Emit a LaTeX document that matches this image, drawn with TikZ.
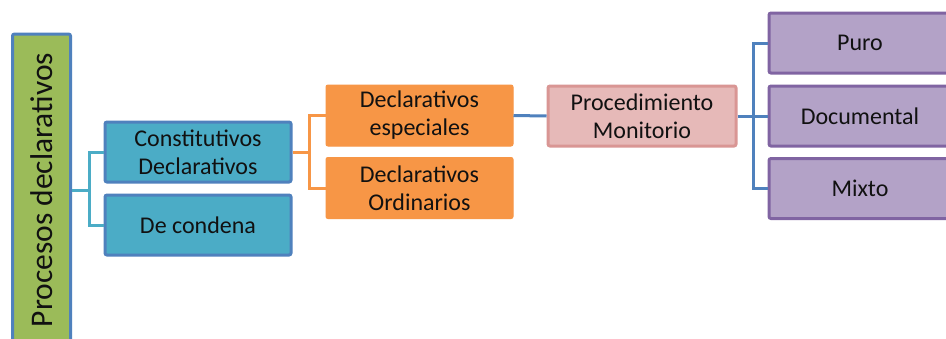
\documentclass[tikz,border=0pt]{standalone}
\usepackage{fontspec}
\setmainfont{Carlito}
\definecolor{bblue}{HTML}{4F81BD}
\definecolor{gfill}{HTML}{9BBB59}
\definecolor{cfill}{HTML}{4BACC6}
\definecolor{ofill}{HTML}{F79646}
\definecolor{pfill}{HTML}{E6B9B8}
\definecolor{pdraw}{HTML}{D99694}
\definecolor{vfill}{HTML}{B3A2C7}
\definecolor{vdraw}{HTML}{8064A2}
\definecolor{txt}{HTML}{111111}
\begin{document}
\begin{tikzpicture}[x=1pt,y=-1pt,
  box/.style={rounded corners=2pt, line width=3pt, align=center, text=txt,
    inner sep=0pt, font=\fontsize{24}{28}\selectfont},
  cbox/.style={box, draw=bblue, fill=cfill, minimum width=186pt, minimum height=60pt},
  obox/.style={box, draw=ofill, fill=ofill, line width=1pt, minimum width=187pt, minimum height=61pt},
  mbox/.style={box, draw=pdraw, fill=pfill, minimum width=188pt, minimum height=60pt},
  vbox/.style={box, draw=vdraw, fill=vfill, minimum width=182pt, minimum height=60pt},
  cline/.style={draw=cfill, line width=3pt},
  oline/.style={draw=ofill, line width=3pt},
  bline/.style={draw=bblue, line width=3pt}
  ]
\useasboundingbox[fill=white] (0,0) rectangle (946,338);
\node[box, draw=bblue, fill=gfill, rotate=90, minimum width=312pt, minimum height=58pt,
  font=\fontsize{31.5}{36}\selectfont] (root) at (41.5,190) {Procesos declarativos};
\node[cbox] (const) at (198,152) {Constitutivos\\Declarativos};
\node[cbox] (cond) at (198,225) {De condena};
\node[obox] (de) at (419.5,115.5) {Declarativos\\especiales};
\node[obox] (do) at (419.5,188) {Declarativos\\Ordinarios};
\node[mbox] (mon) at (642,116) {Procedimiento\\Monitorio};
\node[vbox] (puro) at (860,43) {Puro};
\node[vbox] (doc) at (860,116) {Documental};
\node[vbox] (mix) at (860,188.5) {Mixto};
% connectors
\coordinate (j1) at ([xshift=17pt]root.south);
\draw[cline] (root.south) -- (j1);
\draw[cline] (j1) |- (const.west);
\draw[cline] (j1) |- (cond.west);
\coordinate (j2) at ([xshift=17pt]const.east);
\draw[oline] (const.east) -- (j2);
\draw[oline] (j2) |- (de.west);
\draw[oline] (j2) |- (do.west);
\draw[bline] (de.east) -- (mon.west);
\coordinate (j3) at ([xshift=16pt]mon.east);
\draw[bline] (mon.east) -- (j3);
\draw[bline] (j3) |- (puro.west);
\draw[bline] (j3) |- (doc.west);
\draw[bline] (j3) |- (mix.west);
\end{tikzpicture}
\end{document}
